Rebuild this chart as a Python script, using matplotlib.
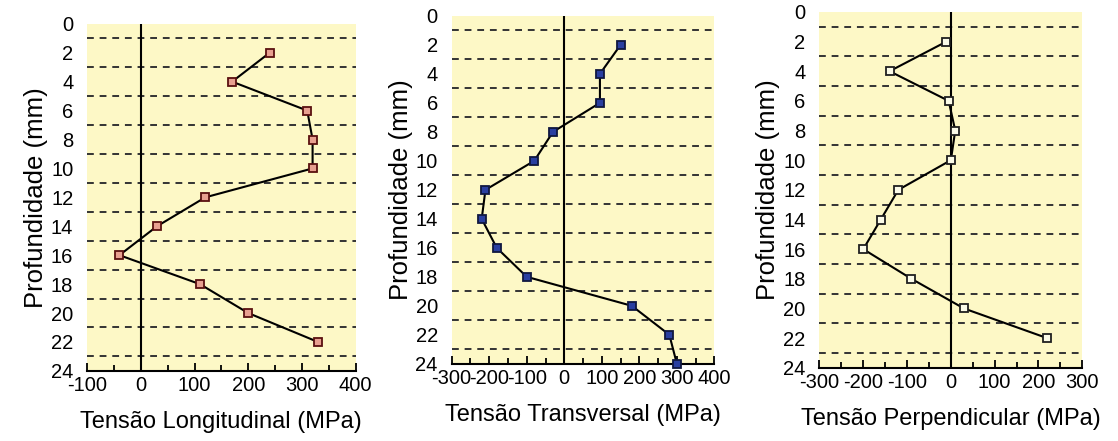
import numpy as np
import matplotlib.pyplot as plt
from matplotlib.ticker import MultipleLocator

plt.rcParams['font.family'] = ['Liberation Sans', 'DejaVu Sans']
plt.rcParams['axes.unicode_minus'] = False

# depths (mm) and stresses (MPa)
depth_long = [2, 4, 6, 8, 10, 12, 14, 16, 18, 20, 22]
tens_long = [240, 170, 310, 320, 320, 120, 30, -40, 110, 200, 330]

depth_trans = [2, 4, 6, 8, 10, 12, 14, 16, 18, 20, 22, 24]
tens_trans = [150, 95, 95, -30, -80, -210, -220, -180, -100, 180, 280, 300]

depth_perp = [2, 4, 6, 8, 10, 12, 14, 16, 18, 20, 22]
tens_perp = [-10, -140, -5, 10, 0, -120, -160, -200, -90, 30, 220]

grid_depths = [1, 3, 5, 7, 9, 11, 13, 15, 17, 19, 21, 23]
depth_ticks = list(range(0, 25, 2))

bg = '#fdf8c6'

panels = [
    dict(x=tens_long, y=depth_long, xlim=(-100, 400), face='#e8a090', edge='#5a1010',
         label='Tensão Longitudinal (MPa)', rect=[0.078, 0.159, 0.240, 0.787]),
    dict(x=tens_trans, y=depth_trans, xlim=(-300, 400), face='#2a3fa0', edge='#101840',
         label='Tensão Transversal (MPa)', rect=[0.404, 0.175, 0.235, 0.789]),
    dict(x=tens_perp, y=depth_perp, xlim=(-300, 300), face='#fbfbe8', edge='#202020',
         label='Tensão Perpendicular (MPa)', rect=[0.733, 0.166, 0.235, 0.807]),
]

fig = plt.figure(figsize=(11.18, 4.41), dpi=100)

for p in panels:
    ax = fig.add_axes(p['rect'])
    ax.set_facecolor(bg)
    for d in grid_depths:
        ax.axhline(d, color='#333333', lw=1.4, ls=(0, (3.5, 3)), zorder=1)
    ax.axvline(0, color='black', lw=1.5, zorder=2)
    ax.plot(p['x'], p['y'], color='black', lw=1.5, marker='s', ms=5.5,
            mfc=p['face'], mec=p['edge'], mew=1.3, zorder=3, clip_on=False)
    ax.set_xlim(*p['xlim'])
    ax.set_ylim(24, 0)
    ax.set_yticks(depth_ticks)
    ax.xaxis.set_major_locator(MultipleLocator(100))
    ax.xaxis.set_minor_locator(MultipleLocator(50))
    for s in ['top', 'right', 'left']:
        ax.spines[s].set_visible(False)
    ax.spines['bottom'].set_linewidth(1.5)
    ax.tick_params(axis='x', which='both', direction='in', width=1.3, labelsize=14.5, pad=4)
    ax.tick_params(axis='x', which='major', length=6)
    ax.tick_params(axis='x', which='minor', length=4)
    ax.tick_params(axis='y', length=0, labelsize=14.5, pad=10)
    ax.set_xlabel(p['label'], fontsize=17, labelpad=11)
    ax.set_ylabel('Profundidade (mm)', fontsize=18.5, labelpad=2)

fig.savefig('out.png', dpi=100)
